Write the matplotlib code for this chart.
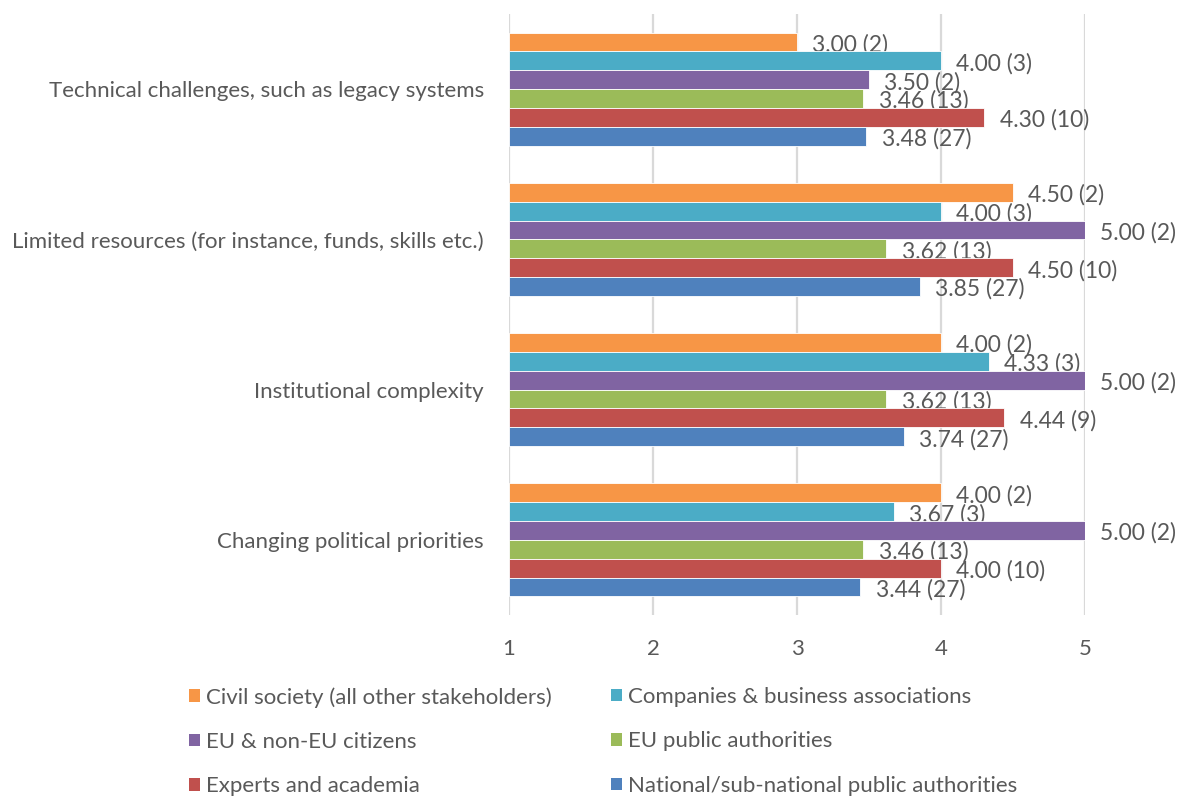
import matplotlib.pyplot as plt
from matplotlib.patches import Patch
import numpy as np

plt.rcParams['font.family'] = ['Lato', 'DejaVu Sans']

# ' Data
categories = [
    'Technical challenges, such as legacy systems',
    'Limited resources (for instance, funds, skills etc.)',
    'Institutional complexity',
    'Changing political priorities',
]
series_names = [
    'Civil society (all other stakeholders)',
    'Companies & business associations',
    'EU & non-EU citizens',
    'EU public authorities',
    'Experts and academia',
    'National/sub-national public authorities',
]
civil = [3.00, 4.50, 4.00, 4.00]
civil_n = [2, 2, 2, 2]
companies = [4.00, 4.00, 4.33, 3.67]
companies_n = [3, 3, 3, 3]
citizens = [3.50, 5.00, 5.00, 5.00]
citizens_n = [2, 2, 2, 2]
eu_public = [3.46, 3.62, 3.62, 3.46]
eu_public_n = [13, 13, 13, 13]
experts = [4.30, 4.50, 4.44, 4.00]
experts_n = [10, 10, 9, 10]
national = [3.48, 3.85, 3.74, 3.44]
national_n = [27, 27, 27, 27]

values = [civil, companies, citizens, eu_public, experts, national]
counts = [civil_n, companies_n, citizens_n, eu_public_n, experts_n, national_n]
colors = ['#F79646', '#4BACC6', '#8064A2', '#9BBB59', '#C0504D', '#4F81BD']

TEXT_COLOR = '#595959'
GRID_COLOR = '#D9D9D9'
FS = 16
LABEL_FS = 16.5
X_MIN = 1

# ' Plot
fig = plt.figure(figsize=(11.84, 7.99), dpi=100)
ax = fig.add_axes([0.43, 0.2303, 0.4865, 0.7522])

y = np.arange(len(categories))
bar_h = 0.1255
for i, (vals, ns, col) in enumerate(zip(values, counts, colors)):
    pos = y - 2.5 * bar_h + i * bar_h
    widths = np.array(vals) - X_MIN
    ax.barh(pos, widths, left=X_MIN, height=bar_h, color=col,
            edgecolor='white', linewidth=0.6, zorder=3)
    # value labels sit behind the bars, as in the original
    for p, v, n in zip(pos, vals, ns):
        ax.annotate(f'{v:.2f} ({n})', xy=(v, p), xytext=(11, -2),
                    textcoords='offset points', ha='left', va='center',
                    fontsize=LABEL_FS, color=TEXT_COLOR, zorder=2,
                    annotation_clip=False)

ax.set_xlim(1, 5)
ax.set_ylim(len(categories) - 0.5, -0.5)
ax.set_xticks([1, 2, 3, 4, 5])
ax.set_yticks(y)
ax.set_yticklabels(categories)
ax.tick_params(axis='both', length=0, labelsize=FS, labelcolor=TEXT_COLOR)
ax.tick_params(axis='x', pad=17)
ax.tick_params(axis='y', pad=18)
for s in ax.spines.values():
    s.set_visible(False)
ax.grid(axis='x', color=GRID_COLOR, linewidth=1.6, zorder=0)
ax.set_axisbelow(True)

# ' Legend (row-wise, two columns)
handles = [Patch(facecolor=c, edgecolor='none') for c in colors]
left_idx = [0, 2, 4]
right_idx = [1, 3, 5]
for idx, xpos in [(left_idx, 189 / 1184), (right_idx, 611 / 1184)]:
    fig.legend([handles[k] for k in idx], [series_names[k] for k in idx],
               loc='upper left', bbox_to_anchor=(xpos, 1 - 687 / 799),
               frameon=False, fontsize=FS, labelcolor=TEXT_COLOR,
               handlelength=0.5, handleheight=0.5, handletextpad=0.25,
               labelspacing=1.1, borderpad=0, borderaxespad=0)

fig.savefig('out.png', dpi=100)
